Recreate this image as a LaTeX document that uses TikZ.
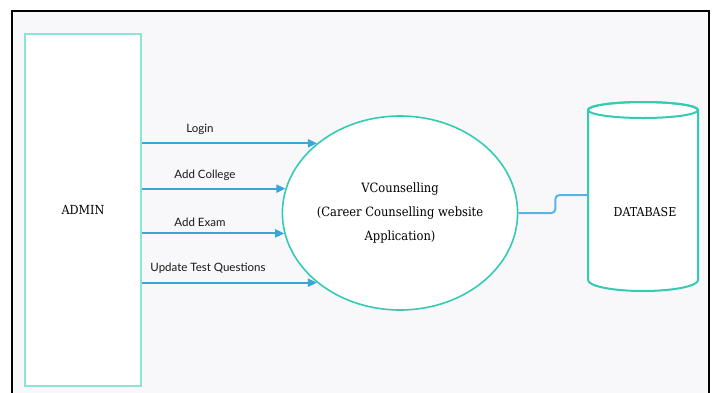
\documentclass[tikz,border=0pt]{standalone}
\usepackage{fontspec}
\setmainfont{DejaVu Serif Condensed}
\newfontfamily\labelfont{Lato}
\usetikzlibrary{arrows.meta,positioning,shapes.geometric}
\definecolor{vcbg}{HTML}{F8F8FA}
\definecolor{vcmint}{HTML}{8BE5D5}
\definecolor{vcteal}{HTML}{33CCB3}
\definecolor{vcblue}{HTML}{3BA5DA}
\definecolor{vclink}{HTML}{5AB4E2}
\begin{document}
\begin{tikzpicture}[x=1pt,y=-1pt,
  box/.style={draw=vcmint,line width=2pt,fill=white},
  flow/.style={draw=vcblue,line width=2pt,-{Triangle[length=9pt,width=8pt]}},
  lbl/.style={font=\labelfont\fontsize{11.5}{13}\selectfont,text=black!90},
  ttl/.style={font=\fontsize{12.8}{24}\selectfont,text=black,align=center}]
  \useasboundingbox (0,0) rectangle (713,392);
  \clip (0,0) rectangle (713,392);
  \draw[line width=2.5pt,fill=vcbg] (12,11) rectangle (709,420);
  \node[box,minimum width=116pt,minimum height=352pt,anchor=north west,
    font=\fontsize{12.5}{14}\selectfont] (admin) at (24,33) {ADMIN};
  \node[ellipse,draw=vcteal,line width=1.6pt,fill=white,minimum width=234pt,
    minimum height=194pt,inner sep=0pt,ttl] (vc) at (400,213)
    {VCounselling\\(Career Counselling website\\Application)};
  \draw[box,draw=vcteal] (588,110) -- (588,280)
    arc[start angle=180,end angle=0,x radius=55,y radius=11] -- (698,110)
    arc[start angle=360,end angle=180,x radius=55,y radius=8] -- cycle;
  \draw[vcteal,line width=2pt] (643,110) ellipse[x radius=55,y radius=8];
  \node[font=\fontsize{12.3}{14}\selectfont] (db) at (645,212) {DATABASE};
  \coordinate (dbw) at (588,195);
  \draw[flow] (admin.east |- vc.140) -- (vc.140);
  \draw[flow] (admin.east |- vc.168.5) -- (vc.168.5);
  \draw[flow] (admin.east |- vc.190) -- (vc.190);
  \draw[flow] (admin.east |- vc.220) -- (vc.220);
  \node[lbl] (login) at (200,129) {Login};
  \node[lbl] (college) at (205,175) {Add College};
  \node[lbl] (exam) at (200,222) {Add Exam};
  \node[lbl] (update) at (208,268) {Update Test Questions};
  \draw[vclink,line width=2pt,rounded corners=4pt] (vc.east) -- ++(37,0) |- (dbw);
\end{tikzpicture}
\end{document}
